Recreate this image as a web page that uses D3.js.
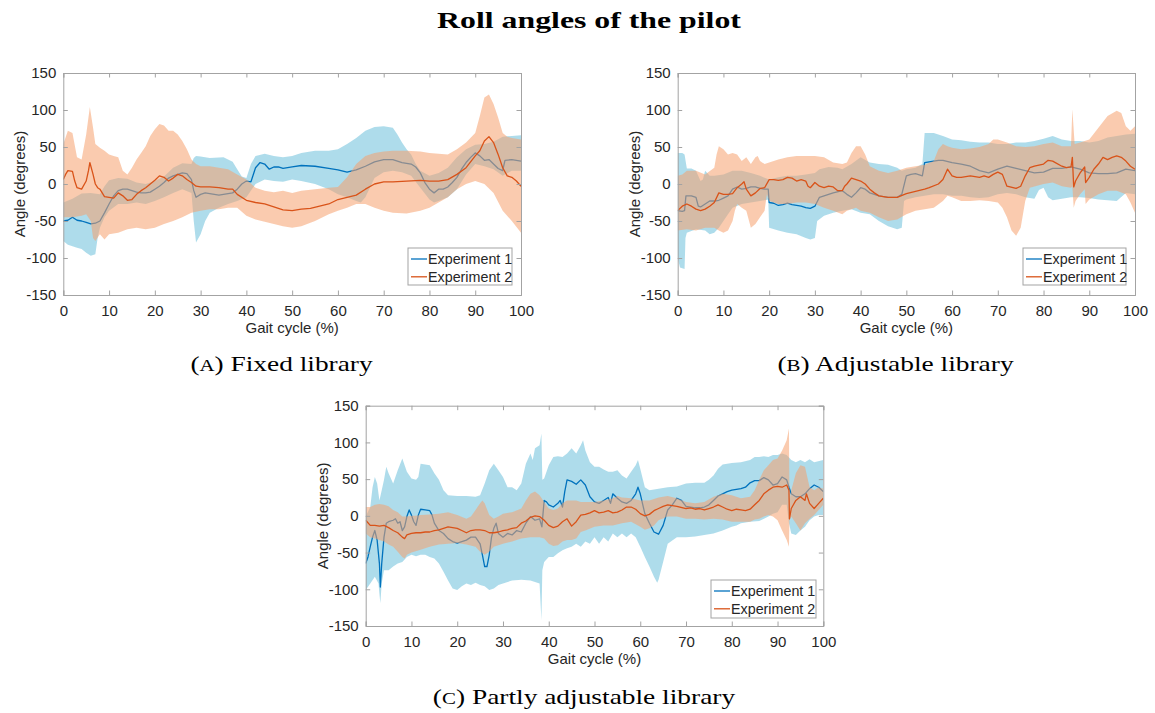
<!DOCTYPE html>
<html>
<head>
<meta charset="utf-8">
<script src="https://cdn.jsdelivr.net/npm/d3@7"></script>
<style>
  html, body { margin: 0; padding: 0; background: #fff; }
  svg { display: block; }
</style>
</head>
<body>
<svg id="fig" width="1155" height="713"></svg>
<script>
// ---- data: [gait cycle %, angle in degrees] ----
const xTicks = [0, 10, 20, 30, 40, 50, 60, 70, 80, 90, 100];
const yTicks = [-150, -100, -50, 0, 50, 100, 150];
const seriesNames = ["Experiment 1", "Experiment 2"];
const figureTitle = "Roll angles of the pilot";
const captionLetters = ["a", "b", "c"];
const captionTexts = ["Fixed library", "Adjustable library", "Partly adjustable library"];
const xLabel = "Gait cycle (%)";
const yLabel = "Angle (degrees)";

// (a) fixed library
const fixedExp1Mean = [[0,-50],[1,-49],[2,-45],[3,-49],[4,-50],[5,-52],[6,-54],[7,-53],[8,-50],[9,-39],[10,-27],[11,-16],[12,-9],[13,-7],[14,-7],[15,-9],[16,-11],[17,-12],[18,-12],[19,-11],[20,-7],[21,-3],[22,2],[23,8],[24,11],[25,13],[26,15],[27,14],[28,6],[28.5,-9],[29,-18],[30,-14],[31,-12],[32,-13],[33,-14],[34,-15],[35,-14],[36,-13],[37,-12],[38,-7],[39,0],[40,4],[41,3],[42,22],[43,29],[44,27],[45,20],[46,23],[47,23],[48,21],[50,23],[52,25],[55,24],[58,21],[60,19],[62,16],[64,19],[66,24],[68,30],[70,33],[72,33],[74,29],[76,27],[77,23],[78,15],[79,2],[80,-7],[81,-12],[82,-7],[83,-7],[84,-4],[85,2],[86,9],[87,20],[88,29],[89,36],[90,42],[91,38],[92,32],[93,33],[94,27],[95,21],[96,18],[96.5,32],[98,33],[100,31]];
const fixedExp1Upper = [[0,-25],[2,-20],[4,-13],[6,-12],[8,-14],[9,-3],[10,5],[12,8],[14,7],[16,2],[18,0],[20,4],[22,10],[24,22],[26,28],[28,27],[28.5,35],[29,38],[30,37],[32,35],[35,36],[37,30],[38,20],[39,10],[40,8],[41,27],[42,38],[44,41],[46,38],[48,36],[50,38],[52,42],[55,45],[58,45],[60,47],[62,54],[64,62],[66,72],[68,77],[70,78],[72,76],[73,67],[74,56],[75,47],[76,40],[77,27],[78,18],[80,11],[82,15],[84,22],[86,36],[88,47],[90,53],[92,54],[94,57],[96,64],[98,65],[100,66]];
const fixedExp1Lower = [[0,-77],[1,-82],[2,-84],[3,-86],[4,-88],[5,-93],[6,-97],[7,-95],[7.5,-73],[8,-59],[9,-45],[10,-36],[12,-27],[14,-27],[16,-25],[18,-27],[20,-23],[22,-18],[24,-12],[26,-7],[28,-12],[28.5,-50],[29,-79],[30,-68],[31,-50],[32,-39],[34,-32],[36,-27],[38,-23],[40,-18],[42,0],[44,6],[46,4],[48,3],[50,6],[52,4],[55,0],[58,-7],[60,-14],[62,-18],[64,-23],[65,-25],[66,-18],[68,8],[70,16],[72,18],[74,16],[76,11],[78,-5],[80,-21],[81,-25],[82,-23],[84,-18],[86,-7],[88,13],[90,27],[92,24],[94,20],[96,11],[98,18],[100,18]];
const fixedExp2Mean = [[0,6],[0.5,13],[1,18],[2,17],[2.5,4],[3,-5],[4,-7],[5,4],[5.5,18],[5.8,29],[6.5,13],[7,0],[7.5,-5],[8,-7],[8.5,-12],[9,-17],[10,-18],[11,-19],[12,-12],[13,-16],[14,-22],[15,-21],[16,-14],[17,-9],[18,-5],[19,0],[20,5],[21,11],[22,9],[23,4],[24,8],[25,13],[26,11],[27,6],[28,2],[29,-3],[30,-4],[32,-4],[34,-5],[36,-7],[37,-7],[38,-14],[40,-22],[42,-25],[44,-27],[46,-31],[48,-35],[50,-36],[52,-34],[54,-33],[56,-30],[58,-27],[60,-21],[62,-18],[64,-15],[66,-7],[68,0],[70,3],[72,3],[75,4],[78,5],[80,4],[82,4],[84,6],[86,13],[88,22],[90,38],[91,45],[92,58],[93,64],[94,56],[95,40],[96,22],[97,11],[98,9],[99,4],[100,-3]];
const fixedExp2Upper = [[0,54],[1,72],[2,69],[3,36],[4,33],[5,67],[5.8,104],[6.5,76],[7,54],[8,49],[9,45],[10,40],[11,38],[12,36],[13,18],[14,13],[15,22],[16,33],[17,42],[18,51],[19,65],[20,74],[21,81],[22,79],[23,72],[24,72],[25,67],[26,58],[27,47],[28,33],[29,27],[30,24],[32,24],[34,22],[36,20],[38,13],[40,6],[42,-5],[44,-9],[46,-11],[48,-9],[50,-12],[52,-9],[55,-7],[58,-5],[60,-4],[62,9],[64,27],[66,38],[68,42],[70,44],[72,45],[75,45],[78,44],[80,42],[82,41],[84,40],[86,47],[88,56],[90,69],[91,92],[92,117],[93,121],[94,108],[95,90],[96,69],[97,64],[98,62],[100,60]];
const fixedExp2Lower = [[0,-45],[2,-45],[4,-43],[5,-41],[6,-50],[6.5,-73],[7,-77],[8,-68],[9,-75],[10,-68],[12,-66],[14,-61],[16,-59],[18,-61],[20,-59],[22,-54],[24,-50],[26,-45],[28,-39],[30,-36],[32,-34],[34,-34],[36,-32],[38,-32],[40,-43],[42,-48],[44,-51],[46,-54],[48,-57],[50,-59],[52,-57],[55,-50],[58,-41],[60,-36],[62,-32],[64,-27],[66,-27],[68,-32],[70,-36],[72,-39],[75,-40],[78,-36],[80,-32],[82,-25],[84,-18],[86,-7],[88,0],[90,4],[92,0],[94,-12],[96,-36],[98,-50],[100,-66]];

// (b) adjustable library
const adjustableExp1Mean = [[0,-36],[1,-37],[1.5,-36],[1.8,-16],[3,-16],[4,-18],[4.5,-30],[5,-31],[6,-27],[7,-23],[8,-23],[9,-22],[10,-19],[11,-16],[12,-7],[13,-4],[14,-7],[15,-6],[16,-4],[17,-4],[18,-6],[19,-7],[19.8,-7],[20,-25],[21,-26],[22,-29],[23,-28],[24,-26],[25,-28],[26,-29],[27,-30],[28,-32],[29,-33],[30,-30],[31,-18],[32,-16],[34,-12],[36,-9],[37,-14],[38,-18],[39,-12],[40,-5],[41,-7],[42,-12],[44,-16],[46,-18],[48,-18],[49,-14],[50,11],[51,13],[52,14],[53.5,11],[54,29],[55,30],[57,32],[58,32],[60,29],[62,27],[64,24],[66,18],[68,15],[70,20],[72,24],[74,21],[76,18],[78,15],[80,16],[82,21],[84,21],[86,23],[88,20],[90,15],[92,14],[94,14],[96,15],[98,20],[100,18]];
const adjustableExp1Upper = [[0,42],[1,42],[1.5,40],[2,21],[3,21],[4,18],[5,4],[5.5,6],[6,18],[7,11],[8,11],[10,13],[12,18],[14,18],[16,15],[18,11],[20,6],[22,9],[24,11],[26,11],[28,13],[30,15],[31,20],[33,23],[35,22],[36,20],[38,27],[40,36],[42,29],[44,27],[46,26],[48,22],[49,18],[50,20],[52,22],[53.5,27],[54,69],[56,69],[58,65],[60,60],[62,59],[64,57],[66,56],[68,56],[70,54],[72,54],[74,56],[76,56],[78,58],[80,61],[82,65],[84,60],[86,58],[88,58],[90,56],[92,58],[94,63],[96,65],[98,67],[100,68]];
const adjustableExp1Lower = [[0,-100],[0.5,-113],[1.5,-115],[1.7,-73],[2,-66],[4,-61],[6,-63],[7,-68],[8,-66],[9,-59],[10,-50],[11,-41],[12,-32],[14,-27],[16,-25],[18,-23],[19.8,-21],[20,-59],[22,-63],[24,-66],[26,-68],[28,-73],[29,-75],[30,-73],[30.5,-50],[32,-43],[34,-39],[36,-36],[38,-34],[40,-39],[42,-41],[44,-50],[46,-57],[48,-61],[49,-59],[49.5,-23],[50,-21],[52,-18],[54,-16],[56,-14],[58,-14],[60,-16],[62,-16],[64,-18],[66,-19],[68,-18],[70,-14],[72,-12],[74,-14],[76,-18],[78,-20],[79,-8],[80,-5],[81,-18],[82,-22],[84,-20],[86,-18],[88,-18],[90,-19],[92,-21],[94,-22],[96,-23],[98,-12],[100,-14]];
const adjustableExp2Mean = [[0,-36],[1,-30],[2,-27],[3,-30],[4,-34],[5,-36],[6,-34],[7,-30],[8,-25],[9,-12],[10,-14],[11,-14],[12,-13],[13,-5],[14,0],[14.5,3],[15,-7],[16,-16],[17,-12],[18,-6],[19,-5],[20,6],[21,6],[22,5],[23,6],[24,9],[25,8],[26,4],[27,6],[28,4],[28.5,-3],[29,-5],[30,2],[31,-3],[32,-5],[33,-3],[34,-4],[35,-9],[36,-9],[36.5,-3],[37,0],[38,8],[39,6],[40,4],[41,0],[42,-7],[43,-12],[44,-16],[46,-18],[48,-18],[50,-13],[52,-10],[54,-7],[55,-5],[57,0],[58,6],[59,20],[60,11],[61,9],[62,9],[64,11],[66,9],[67,11],[68,9],[69,13],[70,16],[71,13],[72,-3],[74,-6],[75,-3],[76,11],[77,22],[78,24],[80,27],[81,32],[82,31],[84,24],[85,22],[86,23],[86.3,36],[86.6,-4],[87,4],[88,15],[89,23],[89.2,2],[90,9],[91,20],[92,27],[93,36],[94,33],[95,36],[96,38],[97,36],[98,31],[99,24],[100,20]];
const adjustableExp2Upper = [[0,11],[1,13],[2,18],[4,18],[6,13],[8,22],[8.5,40],[9,51],[10,47],[11,40],[12,42],[13,40],[14,31],[15,36],[16,27],[17,36],[17.5,38],[18,31],[19,27],[20,29],[22,33],[24,36],[26,38],[28,38],[30,38],[32,36],[34,29],[36,27],[37,29],[38,42],[39,51],[40,51],[41,40],[42,24],[44,18],[46,15],[48,18],[50,22],[52,24],[54,26],[56,31],[57,47],[58,54],[59,51],[60,49],[62,47],[64,48],[66,50],[68,54],[69,60],[70,60],[72,56],[74,51],[76,50],[78,51],[80,54],[82,56],[84,51],[86,51],[86.3,101],[86.8,54],[88,56],[90,60],[92,76],[94,92],[96,99],[97,96],[98,78],[99,72],[100,78]];
const adjustableExp2Lower = [[0,-63],[2,-61],[4,-63],[6,-59],[8,-59],[9,-63],[10,-66],[11,-63],[12,-50],[12.5,-36],[13,-27],[14,-32],[15,-36],[16,-59],[17,-54],[18,-45],[19,-36],[19.5,-14],[20,-23],[22,-27],[24,-27],[26,-25],[28,-25],[30,-27],[32,-32],[34,-36],[36,-41],[37,-36],[38,-34],[39,-32],[40,-36],[42,-39],[44,-45],[46,-50],[48,-48],[50,-41],[52,-36],[54,-34],[56,-32],[58,-23],[59,-16],[60,-18],[62,-23],[64,-23],[66,-22],[68,-23],[70,-25],[71,-32],[72,-45],[73,-63],[74,-70],[75,-59],[76,-23],[77,-5],[80,0],[82,2],[84,-3],[86,-5],[86.3,-3],[86.6,-32],[87,-23],[88,-14],[89,-7],[89.2,-27],[90,-21],[92,-14],[94,-9],[96,-9],[98,-14],[99,-25],[100,-39]];

// (c) partly adjustable library
const partlyExp1Mean = [[0,-65],[0.5,-56],[1,-42],[1.5,-29],[2,-20],[2.5,-33],[3,-65],[3.2,-97],[3.5,-65],[4,-29],[4.5,-10],[5,-8],[6,-6],[6.5,-4],[7,-10],[7.5,-8],[8,-20],[8.5,-15],[9,-1],[9.5,8],[10,1],[10.5,-8],[11,-13],[11.5,1],[12,9],[13,8],[14,7],[14.5,1],[15,-10],[16,-20],[17,-24],[18,-31],[19,-35],[20,-37],[21,-35],[22,-33],[23,-29],[24,-29],[25,-38],[25.5,-53],[26,-69],[26.5,-69],[27,-53],[27.5,-29],[28,-17],[28.5,-10],[29,-24],[30,-29],[31,-24],[32,-26],[33,-20],[34,-22],[35,-10],[36,-1],[37,-6],[38,-4],[38.5,-15],[39,21],[39.5,19],[40,15],[41,12],[42,17],[42.5,21],[43,12],[43.5,33],[44,49],[45,47],[46,43],[47,49],[48,42],[49,26],[50,19],[51,17],[52,21],[53,25],[53.5,17],[54,30],[55,24],[56,19],[57,17],[58,21],[59,30],[59.5,39],[60,30],[61,3],[62,-10],[63,-22],[64,-25],[65,-13],[66,8],[67,15],[68,24],[69,21],[70,13],[71,12],[72,11],[73,11],[74,12],[75,15],[76,21],[77,27],[78,30],[79,33],[80,35],[81,36],[82,37],[83,39],[84,45],[85,48],[86,48],[87,52],[88,49],[89,42],[90,44],[91,53],[92,49],[92.5,39],[93,30],[94,26],[95,26],[96,30],[97,37],[98,42],[99,39],[100,33]];
const partlyExp1Upper = [[0,-1],[1,12],[1.5,39],[2,53],[2.5,44],[3,21],[3.5,35],[4,49],[4.5,67],[5,58],[6,44],[7,62],[8,78],[9,60],[10,51],[11,49],[11.5,53],[12,71],[13,70],[14,69],[15,58],[16,49],[17,35],[18,28],[20,27],[22,27],[24,26],[25,28],[26,44],[27,62],[28,71],[29,62],[30,53],[31,39],[32,39],[33,35],[34,44],[35,71],[36,85],[36.5,76],[37,92],[38,96],[38.4,112],[38.6,49],[39,51],[40,69],[41,80],[42,81],[43,80],[44,85],[45,92],[46,85],[47,96],[47.5,103],[48,89],[49,73],[50,67],[51,67],[52,63],[53,60],[54,60],[55,62],[56,55],[57,51],[58,60],[59,69],[59.5,76],[60,64],[61,39],[62,35],[64,37],[66,39],[68,40],[70,44],[72,45],[74,45],[75,49],[76,55],[77,64],[78,70],[80,72],[82,73],[84,76],[85,80],[86,80],[87,81],[88,80],[89,83],[90,83],[91,85],[92,83],[93,76],[94,73],[95,76],[96,73],[97,77],[98,73],[100,76]];
const partlyExp1Lower = [[0,-101],[1,-92],[2,-83],[2.8,-92],[3,-106],[3.2,-119],[3.5,-92],[4,-74],[5,-74],[6,-69],[7,-65],[8,-63],[9,-56],[10,-53],[11,-55],[12,-53],[13,-53],[14,-56],[15,-58],[16,-65],[17,-76],[18,-88],[19,-99],[20,-101],[21,-96],[22,-92],[23,-94],[24,-91],[25,-94],[26,-96],[27,-101],[28,-99],[29,-94],[30,-92],[32,-88],[34,-87],[36,-88],[38,-92],[38.4,-142],[38.6,-74],[39,-63],[40,-56],[41,-56],[42,-51],[43,-47],[44,-44],[45,-42],[46,-38],[47,-42],[48,-35],[49,-38],[50,-29],[51,-38],[52,-29],[53,-35],[54,-24],[55,-29],[56,-24],[57,-29],[58,-24],[59,-29],[60,-42],[61,-56],[62,-69],[63,-83],[63.7,-91],[64,-87],[65,-63],[66,-38],[68,-29],[70,-29],[72,-28],[74,-26],[76,-24],[78,-20],[80,-15],[81,-13],[82,-10],[84,-8],[86,-7],[88,-1],[89,3],[90,5],[91,15],[92,15],[92.5,-10],[93,-24],[94,-26],[95,-20],[96,-15],[97,-6],[98,-1],[99,1],[100,1]];
const partlyExp2Mean = [[0,-6],[1,-13],[2,-13],[3,-14],[4,-13],[5,-16],[6,-20],[7,-23],[8,-29],[8.5,-31],[9,-26],[10,-24],[11,-23],[12,-23],[13,-22],[14,-22],[15,-20],[16,-19],[17,-17],[18,-15],[19,-16],[20,-17],[21,-20],[22,-23],[23,-20],[24,-19],[25,-19],[26,-20],[27,-23],[28,-23],[29,-22],[30,-20],[31,-19],[32,-17],[33,-16],[34,-10],[35,-7],[36,-2],[37,0],[38,-1],[39,-6],[40,-13],[41,-16],[42,-14],[43,-8],[44,-4],[45,-14],[46,-8],[47,1],[48,2],[49,4],[50,7],[51,4],[52,5],[53,7],[54,4],[55,5],[56,8],[57,12],[58,12],[59,9],[60,3],[61,0],[62,2],[63,7],[64,10],[65,13],[66,15],[68,13],[70,10],[71,11],[72,9],[73,10],[74,8],[75,10],[76,12],[77,15],[78,12],[79,9],[80,7],[81,9],[82,8],[83,7],[84,9],[85,15],[86,21],[87,30],[88,35],[89,39],[90,40],[91,39],[92,42],[92.5,35],[92.6,-4],[93,10],[94,21],[95,26],[96,21],[96.3,30],[97,17],[98,10],[99,17],[100,24]];
const partlyExp2Upper = [[0,12],[1,12],[2,15],[3,16],[4,15],[5,13],[6,8],[7,5],[8,-1],[9,-1],[10,0],[11,0],[12,1],[14,2],[16,3],[18,5],[20,1],[22,-4],[23,-1],[24,8],[25,17],[25.5,21],[26,17],[27,1],[28,-4],[29,-1],[30,3],[32,5],[34,10],[35,21],[36,30],[37,33],[38,28],[39,19],[40,10],[41,8],[42,10],[43,17],[44,21],[45,21],[46,21],[47,19],[48,19],[50,19],[52,21],[54,24],[55,27],[56,25],[58,24],[60,21],[62,21],[64,25],[66,27],[68,24],[70,19],[72,17],[74,19],[76,26],[78,30],[80,28],[82,24],[84,26],[85,35],[86,49],[87,62],[88,69],[89,76],[90,78],[91,89],[92,103],[92.5,119],[92.6,21],[93,35],[94,58],[95,69],[96,67],[97,39],[98,35],[99,39],[100,37]];
const partlyExp2Lower = [[0,-24],[1,-29],[2,-31],[3,-33],[4,-35],[5,-39],[6,-42],[7,-49],[8,-56],[8.5,-58],[9,-53],[10,-50],[12,-46],[14,-42],[16,-39],[18,-38],[20,-37],[22,-39],[24,-42],[25,-49],[26,-53],[27,-49],[28,-42],[30,-38],[32,-35],[34,-31],[36,-29],[38,-29],[39,-31],[40,-38],[41,-41],[42,-40],[43,-35],[44,-33],[45,-33],[46,-31],[47,-22],[48,-20],[50,-15],[52,-13],[54,-13],[56,-10],[58,-8],[60,-15],[61,-19],[62,-17],[63,-13],[64,-6],[66,-1],[68,-1],[70,-4],[72,-4],[74,-5],[76,-4],[78,-5],[80,-8],[82,-8],[84,-8],[85,-5],[86,-4],[87,-1],[88,1],[89,-1],[90,-6],[91,-20],[92,-33],[92.5,-42],[92.6,-6],[93,-1],[94,-10],[95,-20],[96,-10],[97,-4],[98,1],[99,8],[100,15]];

// ---- layout and style ----
const panels = [
  { left: 63.3, right: 521, top: 73, bottom: 295,
    legend: { x: 408, y: 248, w: 104, h: 37 },
    caption: { cx: 281.5, y: 371, w: 183 },
    exp1: [fixedExp1Mean, fixedExp1Upper, fixedExp1Lower],
    exp2: [fixedExp2Mean, fixedExp2Upper, fixedExp2Lower] },
  { left: 677.7, right: 1135, top: 73, bottom: 295,
    legend: { x: 1023, y: 248, w: 103, h: 37 },
    caption: { cx: 895.5, y: 371, w: 237 },
    exp1: [adjustableExp1Mean, adjustableExp1Upper, adjustableExp1Lower],
    exp2: [adjustableExp2Mean, adjustableExp2Upper, adjustableExp2Lower] },
  { left: 365.7, right: 823.3, top: 405.7, bottom: 626,
    legend: { x: 711, y: 580, w: 105, h: 38 },
    caption: { cx: 584, y: 704, w: 303 },
    exp1: [partlyExp1Mean, partlyExp1Upper, partlyExp1Lower],
    exp2: [partlyExp2Mean, partlyExp2Upper, partlyExp2Lower] }
];

const lineColors = ["#0072BD", "#D95319"];
const fillColors = ["rgb(120,196,222)", "rgb(245,160,110)"];
const fillOpacity = [0.6, 0.55];
const axisColor = "#a3a3a3";
const textColor = "#262626";
const sansFont = "'Liberation Sans', Arial, Helvetica, sans-serif";
const serifFont = "'Liberation Serif', 'Times New Roman', serif";

const svg = d3.select("#fig");
svg.append("rect").attr("width", 1155).attr("height", 713).attr("fill", "#fff");

// stretch a centred text element horizontally to the wanted width
function fitWidth(sel, cx, y, targetW) {
  const w = sel.node().getBBox().width;
  sel.attr("transform", `translate(${cx},${y}) scale(${targetW / w},1)`);
}

const title = svg.append("text")
  .attr("text-anchor", "middle")
  .attr("font-family", serifFont)
  .attr("font-weight", "bold")
  .attr("font-size", 24)
  .attr("fill", "#000")
  .text(figureTitle);
fitWidth(title, 589, 28, 304);

panels.forEach((p, i) => {
  const x = d3.scaleLinear().domain([0, 100]).range([p.left, p.right]);
  const y = d3.scaleLinear().domain([-150, 150]).range([p.bottom, p.top]);
  const g = svg.append("g");

  const clipId = "clip" + i;
  svg.append("clipPath").attr("id", clipId)
    .append("rect")
    .attr("x", p.left).attr("y", p.top)
    .attr("width", p.right - p.left).attr("height", p.bottom - p.top);

  const plot = g.append("g").attr("clip-path", `url(#${clipId})`);
  const line = d3.line().x(d => x(d[0])).y(d => y(d[1]));

  [p.exp1, p.exp2].forEach((s, k) => {
    const [mean, upper, lower] = s;
    const ring = upper.concat(lower.slice().reverse());
    plot.append("path")
      .attr("d", line(ring) + "Z")
      .attr("fill", fillColors[k])
      .attr("fill-opacity", fillOpacity[k])
      .attr("stroke", "none");
    plot.append("path")
      .attr("d", line(mean))
      .attr("fill", "none")
      .attr("stroke", lineColors[k])
      .attr("stroke-width", 1.3)
      .attr("stroke-linejoin", "round");
  });

  // axes: box with inward ticks on all four sides
  const tickLen = 4.5;
  const axG = g.append("g");
  const axB = d3.axisBottom(x).tickValues(xTicks).tickSize(-tickLen).tickPadding(10).tickFormat(d3.format("d"));
  const axL = d3.axisLeft(y).tickValues(yTicks).tickSize(-tickLen).tickPadding(7).tickFormat(d3.format("d"));
  const axT = d3.axisTop(x).tickValues(xTicks).tickSize(-tickLen).tickFormat("");
  const axR = d3.axisRight(y).tickValues(yTicks).tickSize(-tickLen).tickFormat("");

  const style = sel => {
    sel.select(".domain").attr("stroke", axisColor).attr("stroke-width", 1);
    sel.selectAll(".tick line").attr("stroke", axisColor);
    sel.selectAll(".tick text")
      .attr("fill", textColor)
      .attr("font-family", sansFont)
      .attr("font-size", 15);
  };
  axG.append("g").attr("transform", `translate(0,${p.bottom})`).call(axB).call(style);
  axG.append("g").attr("transform", `translate(${p.left},0)`).call(axL).call(style);
  axG.append("g").attr("transform", `translate(0,${p.top})`).call(axT).call(style);
  axG.append("g").attr("transform", `translate(${p.right},0)`).call(axR).call(style);
  axG.selectAll(".tick text").text(function () { return this.textContent.replace("\u2212", "-"); });

  // axis titles
  g.append("text")
    .attr("x", (p.left + p.right) / 2)
    .attr("y", p.bottom + 38)
    .attr("text-anchor", "middle")
    .attr("font-family", sansFont)
    .attr("font-size", 15)
    .attr("fill", textColor)
    .text(xLabel);
  g.append("text")
    .attr("transform", `translate(${p.left - 38},${(p.top + p.bottom) / 2}) rotate(-90)`)
    .attr("text-anchor", "middle")
    .attr("font-family", sansFont)
    .attr("font-size", 15)
    .attr("fill", textColor)
    .text(yLabel);

  // legend
  const lg = g.append("g");
  lg.append("rect")
    .attr("x", p.legend.x).attr("y", p.legend.y)
    .attr("width", p.legend.w).attr("height", p.legend.h)
    .attr("fill", "#fff").attr("stroke", axisColor).attr("stroke-width", 1);
  seriesNames.forEach((name, k) => {
    const cy = p.legend.y + 11 + k * 17.8;
    lg.append("line")
      .attr("x1", p.legend.x + 3).attr("x2", p.legend.x + 19)
      .attr("y1", cy).attr("y2", cy)
      .attr("stroke", lineColors[k]).attr("stroke-width", 1.3);
    lg.append("text")
      .attr("x", p.legend.x + 20).attr("y", cy + 5)
      .attr("font-family", sansFont)
      .attr("font-size", 14.3)
      .attr("fill", textColor)
      .text(name);
  });

  // sub-caption with small-caps letter
  const cap = svg.append("text")
    .attr("text-anchor", "middle")
    .attr("font-family", serifFont)
    .attr("font-size", 21)
    .attr("fill", "#000");
  cap.append("tspan").text("(");
  cap.append("tspan").attr("font-size", 16).text(captionLetters[i].toUpperCase());
  cap.append("tspan").text(") " + captionTexts[i]);
  fitWidth(cap, p.caption.cx, p.caption.y, p.caption.w);
});
</script>
</body>
</html>
